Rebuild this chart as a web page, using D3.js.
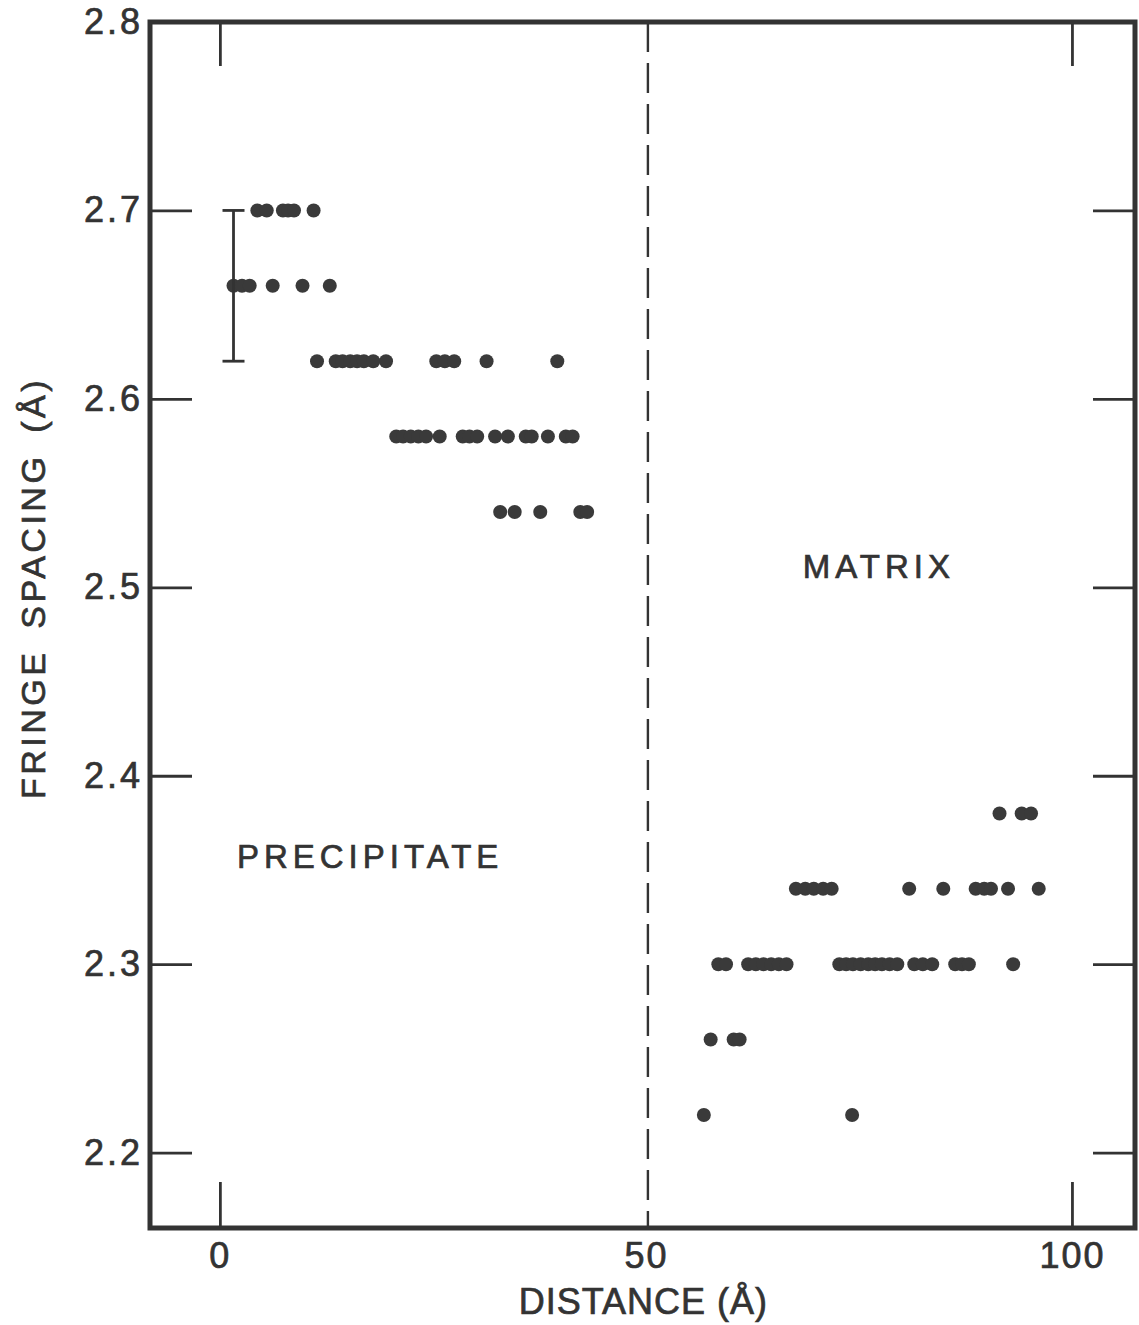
<!DOCTYPE html>
<html>
<head>
<meta charset="utf-8">
<script src="https://cdn.jsdelivr.net/npm/d3@7"></script>
<style>
  body { margin: 0; background: #fff; }
  text { font-family: 'Liberation Sans', 'DejaVu Sans', sans-serif; fill: #333; stroke: #333; stroke-width: 0.7; }
</style>
</head>
<body>
<div id="chart-area"></div>
<script>
// fringe spacing (Å) rows and the distances (Å) of the dots on each row
const precipitateRows = [2.70, 2.66, 2.62, 2.58, 2.54];
const matrixRows = [2.38, 2.34, 2.30, 2.26, 2.22];

const at270 = [4.4, 5.5, 7.4, 8.0, 8.7, 11.0];
const at266 = [1.6, 2.6, 3.5, 6.2, 9.7, 12.9];
const at262 = [11.4, 13.6, 14.4, 15.3, 16.1, 16.9, 18.0, 19.5, 25.4, 26.4, 27.5, 31.3, 39.6];
const at258 = [20.7, 21.5, 22.4, 23.3, 24.2, 25.8, 28.5, 29.3, 30.2, 32.3, 33.8, 35.9, 36.6, 38.5, 40.6, 41.4];
const at254 = [32.9, 34.6, 37.6, 42.3, 43.1];

const at238 = [91.5, 94.1, 95.2];
const at234 = [67.6, 68.7, 69.7, 70.8, 71.8, 80.9, 84.9, 88.7, 89.7, 90.5, 92.5, 96.1];
const at230 = [58.5, 59.4, 62.0, 62.9, 63.8, 64.7, 65.6, 66.5, 72.7, 73.5, 74.3, 75.2, 76.1, 76.9, 77.7, 78.6, 79.5, 81.5, 82.5, 83.6, 86.3, 87.1, 87.9, 93.1];
const at226 = [57.6, 60.3, 61.0];
const at222 = [56.8, 74.2];

const precipitateDist = [at270, at266, at262, at258, at254];
const matrixDist = [at238, at234, at230, at226, at222];

// error bar at the start of the precipitate
const errX = 1.6;
const errRange = [2.62, 2.70];

const yTicks = [2.2, 2.3, 2.4, 2.5, 2.6, 2.7, 2.8];
const xTicks = [0, 50, 100];
const boundary = 50;

let width = 1139;
let height = 1325;
let ink = '#333';

let xScale = d3.scaleLinear().domain([-8.2, 107.4]).range([150, 1135]);
let yScale = d3.scaleLinear().domain([2.16, 2.8]).range([1228, 22]);

let chart = d3
  .select('#chart-area')
  .append('svg')
  .attr('width', width)
  .attr('height', height);

//points
let points = [];
precipitateRows.forEach((s, i) => precipitateDist[i].forEach((d) => points.push({ d, s })));
matrixRows.forEach((s, i) => matrixDist[i].forEach((d) => points.push({ d, s })));

chart
  .append('g')
  .selectAll('circle')
  .data(points)
  .enter()
  .append('circle')
  .attr('cx', (p) => xScale(p.d))
  .attr('cy', (p) => yScale(p.s))
  .attr('r', 7)
  .attr('fill', '#3a3a3a');

//error bar
let err = chart.append('g').attr('stroke', ink).attr('stroke-width', 2.8);
err
  .append('line')
  .attr('x1', xScale(errX))
  .attr('x2', xScale(errX))
  .attr('y1', yScale(errRange[0]))
  .attr('y2', yScale(errRange[1]));
err
  .selectAll('.cap')
  .data(errRange)
  .enter()
  .append('line')
  .attr('x1', xScale(errX) - 11)
  .attr('x2', xScale(errX) + 11)
  .attr('y1', (d) => yScale(d))
  .attr('y2', (d) => yScale(d));

//boundary between precipitate and matrix
chart
  .append('line')
  .attr('x1', xScale(boundary) + 2)
  .attr('x2', xScale(boundary) + 2)
  .attr('y1', yScale(2.8))
  .attr('y2', yScale(2.16))
  .attr('stroke', ink)
  .attr('stroke-width', 2.4)
  .attr('stroke-dasharray', '30 11');

//axes, ticks pointing inward
let x0 = xScale.range()[0];
let x1 = xScale.range()[1];
let y0 = yScale.range()[0];
let y1 = yScale.range()[1];

let yAxis = d3.axisLeft(yScale).tickValues(yTicks).tickSize(-42).tickPadding(7).tickFormat(d3.format('.1f'));
let yAxisRight = d3.axisRight(yScale).tickValues(yTicks.slice(0, -1)).tickSize(-42).tickFormat('');
let xAxisBottom = d3.axisBottom(xScale).tickValues(xTicks).tickSize(-46).tickPadding(14).tickFormat((d) => `${d}`);
let xAxisTop = d3.axisTop(xScale).tickValues([0, 100]).tickSize(-44).tickFormat('');

let gy = chart.append('g').attr('transform', `translate(${x0}, 0)`).call(yAxis);
chart.append('g').attr('transform', `translate(${x1}, 0)`).call(yAxisRight);
let gx = chart.append('g').attr('transform', `translate(0, ${y0})`).call(xAxisBottom);
chart.append('g').attr('transform', `translate(0, ${y1})`).call(xAxisTop);

chart.selectAll('.domain').remove();
chart.selectAll('.tick line').attr('stroke', ink).attr('stroke-width', 2.8);
// the 50 tick is replaced by the dashed boundary
gx.selectAll('.tick').filter((d) => d === boundary).select('line').remove();

gy.selectAll('.tick text')
  .attr('font-size', 36)
  .attr('letter-spacing', 3)
  .attr('fill', ink)
  .attr('font-family', 'Liberation Sans, sans-serif');
gx.selectAll('.tick text')
  .attr('font-size', 36)
  .attr('letter-spacing', 2)
  .attr('fill', ink)
  .attr('font-family', 'Liberation Sans, sans-serif');

//frame
chart
  .append('rect')
  .attr('x', x0)
  .attr('y', y1)
  .attr('width', x1 - x0)
  .attr('height', y0 - y1)
  .attr('fill', 'none')
  .attr('stroke', ink)
  .attr('stroke-width', 5);

//axis labels
chart
  .append('text')
  .text('DISTANCE (Å)')
  .attr('text-anchor', 'middle')
  .attr('font-size', 36)
  .attr('letter-spacing', 1)
  .attr('x', xScale(49.7))
  .attr('y', 1314);

chart
  .append('text')
  .text('FRINGE SPACING (Å)')
  .attr('text-anchor', 'middle')
  .attr('font-size', 34)
  .attr('letter-spacing', 3.5)
  .attr('word-spacing', 8)
  .attr('transform', `translate(45, ${588}) rotate(-90)`);

//region labels
chart
  .append('text')
  .text('PRECIPITATE')
  .attr('font-size', 33)
  .attr('letter-spacing', 5)
  .attr('x', xScale(2.0))
  .attr('y', yScale(2.351));

chart
  .append('text')
  .text('MATRIX')
  .attr('font-size', 33)
  .attr('letter-spacing', 5)
  .attr('x', xScale(68.4))
  .attr('y', yScale(2.505));
</script>
</body>
</html>
